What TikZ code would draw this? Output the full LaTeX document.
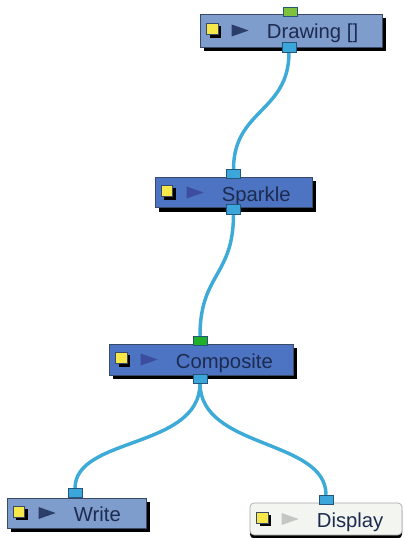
\documentclass[tikz,border=0pt]{standalone}
\usepackage{fontspec}
\setmainfont{Liberation Sans}
\usetikzlibrary{positioning, calc, shadows, backgrounds}
\definecolor{nodeGray}{HTML}{7E9CCC}
\definecolor{nodeBlue}{HTML}{4D74C2}
\definecolor{nodeWhite}{HTML}{F3F6F0}
\definecolor{nodeEdge}{HTML}{3A4A66}
\definecolor{textDark}{HTML}{1C2B4F}
\definecolor{wireBlue}{HTML}{3DAAD8}
\definecolor{portBlue}{HTML}{3AA6DA}
\definecolor{portEdge}{HTML}{24557A}
\definecolor{portLime}{HTML}{7DC23A}
\definecolor{portGreen}{HTML}{1FAF2A}
\definecolor{iconYellow}{HTML}{F6E84A}
\definecolor{triDark}{HTML}{2C3D6A}
\definecolor{triBlue}{HTML}{3C4C9E}
\definecolor{triLight}{HTML}{C3C7C3}
\tikzset{
  shadowK/.style={drop shadow={shadow xshift=3pt, shadow yshift=-3pt,
                  fill=black, opacity=1}},
  boxGray/.style={rectangle, draw=nodeEdge, fill=nodeGray, line width=0.5pt,
                  inner sep=0pt, shadowK},
  boxBlue/.style={rectangle, draw=nodeEdge, fill=nodeBlue, line width=0.5pt,
                  inner sep=0pt, shadowK},
  boxWhite/.style={rectangle, rounded corners=3pt, draw=gray!70, fill=nodeWhite,
                   line width=0.5pt, inner sep=0pt,
                   drop shadow={shadow xshift=0pt, shadow yshift=-2.5pt,
                   fill=black, opacity=1}},
  nodeText/.style={anchor=base west, inner sep=0pt, text=textDark,
                   font=\fontsize{15.2}{17}\selectfont},
  iconY/.style={rectangle, draw=nodeEdge, fill=iconYellow, line width=0.4pt,
                minimum size=8.4pt, inner sep=0pt,
                drop shadow={shadow xshift=2.2pt, shadow yshift=-2.2pt,
                fill=black, opacity=1}},
  portB/.style={rectangle, draw=portEdge, fill=portBlue, line width=0.5pt,
                minimum width=10.5pt, minimum height=6.8pt, inner sep=0pt},
  portG/.style={portB, fill=#1},
  wire/.style={wireBlue, line width=2.6pt},
}
\begin{document}
\begin{tikzpicture}[x=0.75pt, y=-0.75pt]
  \useasboundingbox (0,0) rectangle (404,538);
  % nodes
  \node[boxGray, minimum width=136.5pt, minimum height=24.8pt] (draw) at (291,30.5) {};
  \node[boxBlue, minimum width=117.8pt, minimum height=22.5pt] (spark) at (233.5,192.5) {};
  \node[boxBlue, minimum width=138pt, minimum height=23.3pt] (comp) at (201,359.5) {};
  \node[boxGray, minimum width=104.3pt, minimum height=22.5pt] (write) at (76.5,513) {};
  \node[boxWhite, minimum width=114pt, minimum height=24pt] (disp) at (326,519) {};
  % texts
  \node[nodeText] (drawT) at ($(draw.west)+(67,8.5)$) {Drawing []};
  \node[nodeText] (sparkT) at ($(spark.west)+(67,8.5)$) {Sparkle};
  \node[nodeText] (compT) at ($(comp.west)+(67,8.5)$) {Composite};
  \node[nodeText] (writeT) at ($(write.west)+(67,8.5)$) {Write};
  \node[nodeText] (dispT) at ($(disp.west)+(67,8.5)$) {Display};
  % icons
  \node[iconY] (drawY) at ($(draw.west)+(12.5,-1.5)$) {};
  \node[iconY] (sparkY) at ($(spark.west)+(12.5,-1.5)$) {};
  \node[iconY] (compY) at ($(comp.west)+(12.5,-1.5)$) {};
  \node[iconY] (writeY) at ($(write.west)+(12.5,-1.5)$) {};
  \node[iconY] (dispY) at ($(disp.west)+(12.5,-1.5)$) {};
  \fill[triDark] ($(draw.west)+(32,-6)$) -- ++(17,6) -- ++(-17,6) -- cycle;
  \fill[triBlue] ($(spark.west)+(32,-6)$) -- ++(17,6) -- ++(-17,6) -- cycle;
  \fill[triBlue] ($(comp.west)+(32,-6)$) -- ++(17,6) -- ++(-17,6) -- cycle;
  \fill[triDark] ($(write.west)+(32,-6)$) -- ++(17,6) -- ++(-17,6) -- cycle;
  \fill[triLight] ($(disp.west)+(32,-6)$) -- ++(17,6) -- ++(-17,6) -- cycle;
  % ports
  \node[portG=portLime] (drawIn) at ($(draw.north)+(-1,-2)$) {};
  \node[portB] (drawOut) at ($(draw.south)+(-2,0)$) {};
  \node[portB] (sparkIn) at ($(spark.north)+(0,-3)$) {};
  \node[portB] (sparkOut) at ($(spark.south)+(0,1.5)$) {};
  \node[portG=portGreen] (compIn) at ($(comp.north)+(-1,-3)$) {};
  \node[portB] (compOut) at ($(comp.south)+(-1,3)$) {};
  \node[portB] (writeIn) at ($(write.north)+(-1.5,-4.5)$) {};
  \node[portB] (dispIn) at ($(disp.north)+(0,-3)$) {};
  % wires
  \begin{scope}[on background layer]
  \draw[wire] (drawOut.south) .. controls ($(drawOut.south)+(0,60)$)
    and ($(sparkIn.north)+(0,-60)$) .. (sparkIn.north);
  \draw[wire] (sparkOut.south) .. controls ($(sparkOut.south)+(0,62)$)
    and ($(compIn.north)+(0,-62)$) .. (compIn.north);
  \draw[wire] (compOut.south) .. controls ($(compOut.south)+(0,66)$)
    and ($(writeIn.north)+(0,-52)$) .. (writeIn.north);
  \draw[wire] (compOut.south) .. controls ($(compOut.south)+(0,66)$)
    and ($(dispIn.north)+(0,-56)$) .. (dispIn.north);
  \end{scope}
\end{tikzpicture}
\end{document}
